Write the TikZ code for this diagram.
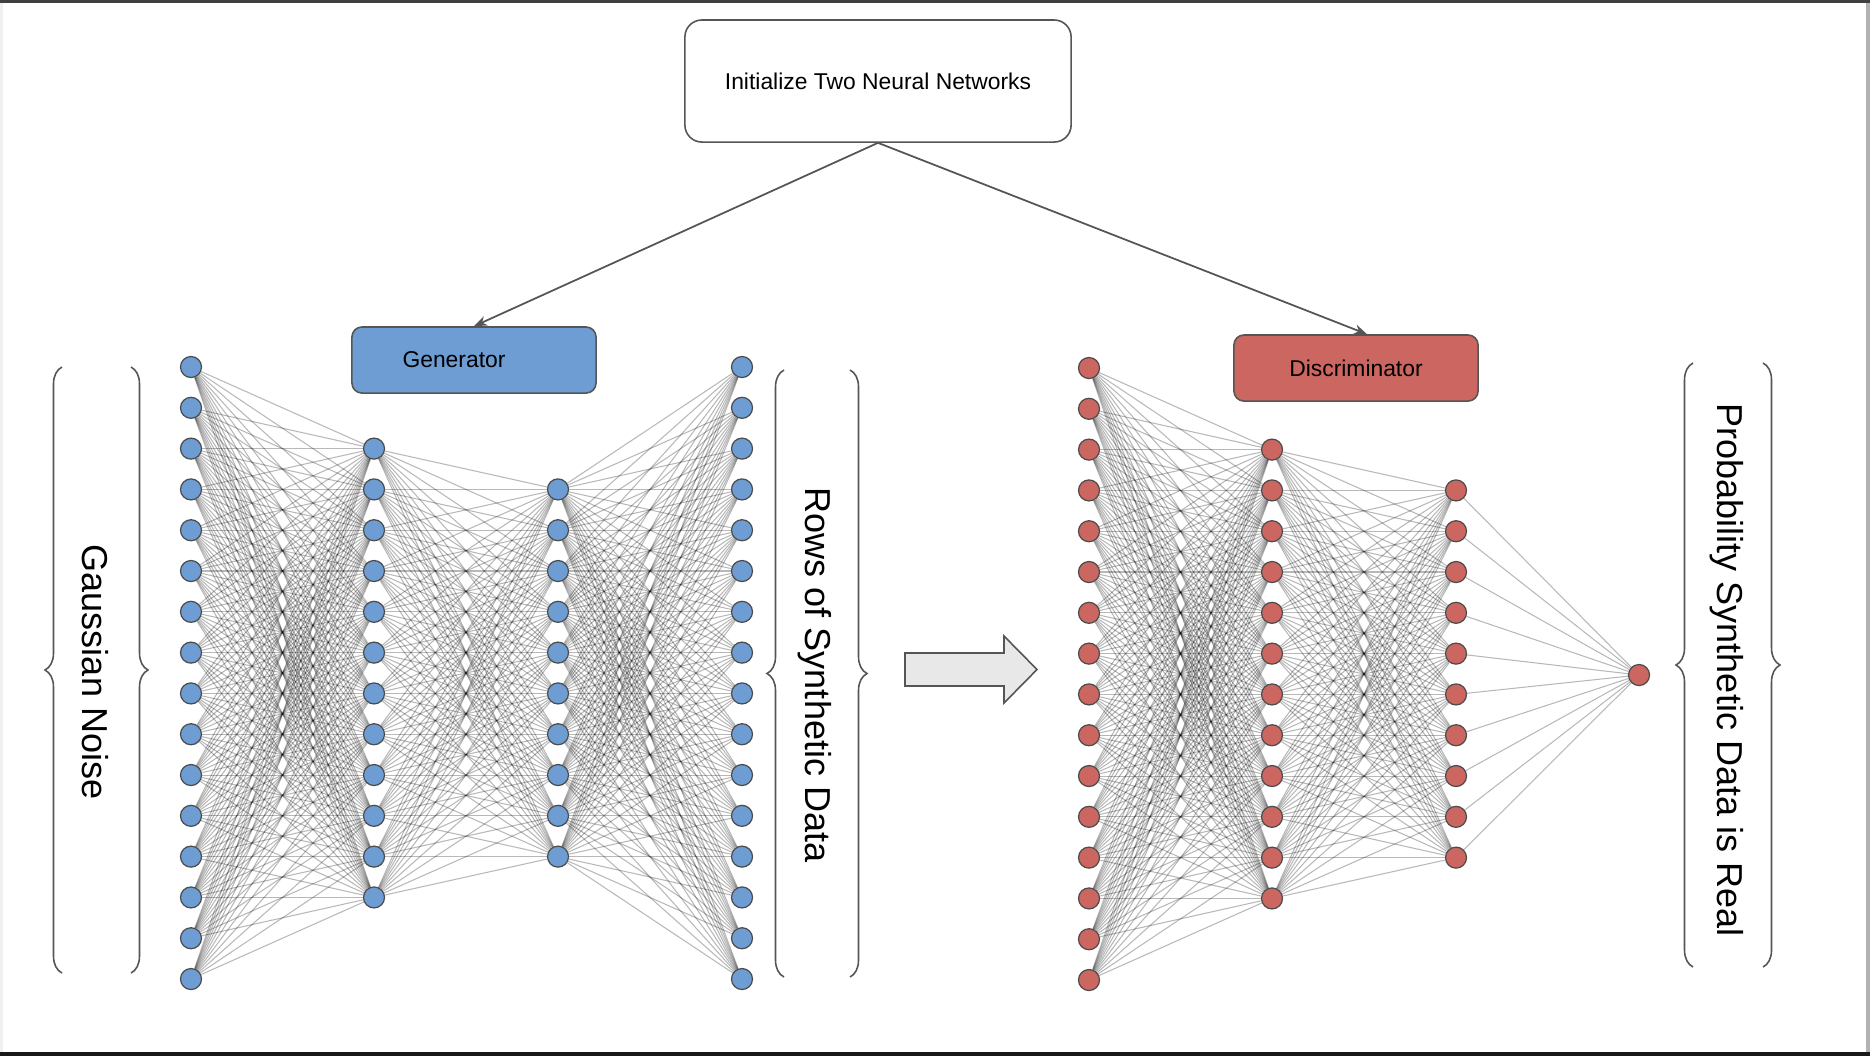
\documentclass[tikz,border=0pt]{standalone}
\usepackage{fontspec}
\setmainfont{Liberation Sans}
\usepackage{tikz}
\usetikzlibrary{arrows.meta}
\usetikzlibrary{backgrounds}
\usetikzlibrary{decorations.pathreplacing}
\definecolor{genblue}{RGB}{109,157,211}
\definecolor{discred}{RGB}{204,102,97}
\definecolor{linegray}{RGB}{85,85,85}
\tikzset{>={Stealth[length=0.13cm,width=0.1cm]},
  neuron/.style={circle,draw=black!70,line width=0.35pt,minimum size=0.21cm,inner sep=0pt},
  gneuron/.style={neuron,fill=genblue},
  dneuron/.style={neuron,fill=discred},
  link/.style={draw=black,opacity=0.28,line width=0.3pt},
  smallfont/.style={font=\fontsize{6.5}{8}\selectfont},
  netbox/.style={draw=linegray,rounded corners=0.1cm,line width=0.45pt,
    minimum width=2.44cm,minimum height=0.66cm,smallfont},
  bigtext/.style={rotate=-90,font=\fontsize{10.25}{12}\selectfont},
  bracket/.style={draw=linegray,line width=0.45pt,decorate,
    decoration={brace,amplitude=0.17cm}}}

\begin{document}
\begin{tikzpicture}[x=0.01cm,y=-0.01cm]
    \useasboundingbox (0,0) rectangle (1870,1056);
    % frame of the screenshot
    \fill[black!6] (0,0) rectangle (3,1052);
    \fill[black!30] (1866,0) rectangle (1870,1052);
    \fill[black!75] (0,0) rectangle (1870,3);
    \fill[black!90] (0,1052) rectangle (1870,1056);

    \node[draw=linegray,rounded corners=0.17cm,line width=0.45pt,
      minimum width=3.86cm,minimum height=1.22cm,smallfont] (init) at (878,81)
      {Initialize Two Neural Networks};
    \node[netbox,fill=genblue,
      label={[xshift=-0.2cm,smallfont]center:Generator}] (gen) at (474,360) {};
    \node[netbox,fill=discred] (disc) at (1356,368) {Discriminator};

    \draw[->,linegray,line width=0.5pt] (init.south) -- (gen.north);
    \draw[->,linegray,line width=0.5pt] (init.south) -- ([xshift=0.11cm]disc.north);

    % generator
    \foreach \i in {1,...,16} {
      \node[gneuron] (ga\i) at (191,{367+40.8*(\i-1)}) {};
      \node[gneuron] (gd\i) at (742,{367+40.8*(\i-1)}) {};
      \node[dneuron] (da\i) at (1089,{368+40.8*(\i-1)}) {};
    }
    \foreach \i in {3,...,14} {
      \node[gneuron] (gb\i) at (374,{367+40.8*(\i-1)}) {};
      \node[dneuron] (db\i) at (1272,{368+40.8*(\i-1)}) {};
    }
    \foreach \i in {4,...,13} {
      \node[gneuron] (gc\i) at (558,{367+40.8*(\i-1)}) {};
      \node[dneuron] (dc\i) at (1456,{368+40.8*(\i-1)}) {};
    }
    \node[dneuron] (dout) at (1639,675) {};

    \begin{pgfonlayer}{background}
      \foreach \i in {1,...,16} \foreach \j in {3,...,14} {
        \draw[link] (ga\i) -- (gb\j);
        \draw[link] (da\i) -- (db\j);
      }
      \foreach \i in {3,...,14} \foreach \j in {4,...,13} {
        \draw[link] (gb\i) -- (gc\j);
        \draw[link] (db\i) -- (dc\j);
      }
      \foreach \i in {4,...,13} {
        \foreach \j in {1,...,16} \draw[link] (gc\i) -- (gd\j);
        \draw[link] (dc\i) -- (dout);
      }
    \end{pgfonlayer}

    % braces and their texts
    \draw[bracket] (62,973) -- (62,367);
    \draw[bracket] (131,367) -- (131,973);
    \node[bigtext] (noise) at (95,672) {Gaussian Noise};
    \draw[bracket] (784,977) -- (784,370);
    \draw[bracket] (850,370) -- (850,977);
    \node[bigtext] (rows) at (815,675) {Rows of Synthetic Data};
    \draw[bracket] (1693,967) -- (1693,363);
    \draw[bracket] (1763,363) -- (1763,967);
    \node[bigtext] (prob) at (1727,670) {Probability Synthetic Data is Real};

    % big arrow between the two networks
    \draw[fill=black!9,draw=linegray,line width=0.45pt]
      (905,653) -- (1004,653) -- (1004,636) -- (1037,669.5) -- (1004,703)
      -- (1004,686) -- (905,686) -- cycle;
\end{tikzpicture}
\end{document}
